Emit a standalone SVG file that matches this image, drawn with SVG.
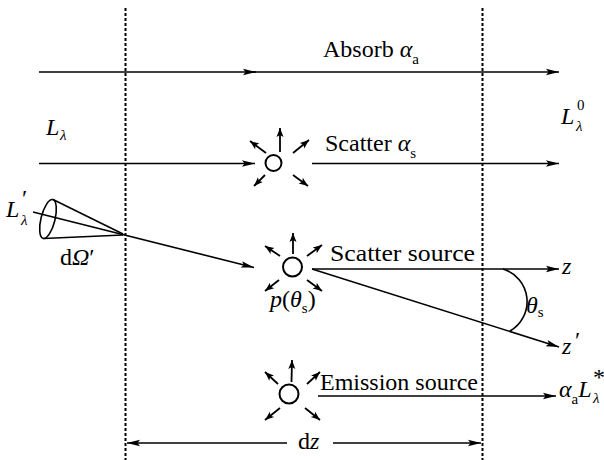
<svg xmlns="http://www.w3.org/2000/svg" width="604" height="460" viewBox="0 0 604 460">
<defs>
<marker id="ah" markerUnits="userSpaceOnUse" markerWidth="14" markerHeight="8" refX="13" refY="4" orient="auto" overflow="visible">
<path d="M0,0.8 L13,4 L0,7.2 L2.5,4 z" fill="#000"/>
</marker>
<marker id="sh" markerUnits="userSpaceOnUse" markerWidth="10" markerHeight="8" refX="9" refY="4" orient="auto" overflow="visible">
<path d="M0,0.5 L9,4 L0,7.5 L2,4 z" fill="#000"/>
</marker>
<marker id="ahs" markerUnits="userSpaceOnUse" markerWidth="14" markerHeight="8" refX="0" refY="4" orient="auto" overflow="visible">
<path d="M0,4 L13,0.8 L10.5,4 L13,7.2 z" fill="#000"/>
</marker>
</defs>
<style>
.t{font-family:"Liberation Serif","Times New Roman",serif;font-size:24px;fill:#000}
.i{font-style:italic}
.sub{font-size:15px}
.ln{stroke:#000;stroke-width:1.6;fill:none}
.dash{stroke:#000;stroke-width:2;stroke-dasharray:3 2;fill:none}
.ray{stroke:#000;stroke-width:1.8;fill:none;marker-end:url(#sh)}
.c{fill:#fff;stroke:#000;stroke-width:2}
</style>
<rect width="604" height="460" fill="#fff"/>

<g id="boundaries">
<line class="dash" x1="125.5" y1="8" x2="125.5" y2="460"/>
<line class="dash" x1="482.5" y1="8" x2="482.5" y2="460"/>
</g>

<g id="connectors">
<line class="ln" x1="39" y1="72" x2="256" y2="72" marker-end="url(#ah)"/>
<line class="ln" x1="250" y1="72" x2="559" y2="72" marker-end="url(#ah)"/>
<line class="ln" x1="39" y1="163.5" x2="255" y2="163.5" marker-end="url(#ah)"/>
<line class="ln" x1="312" y1="163.5" x2="559" y2="163.5" marker-end="url(#ah)"/>
<line class="ln" x1="33" y1="212" x2="254" y2="267.5" marker-end="url(#ah)"/>
<line class="ln" x1="312" y1="269" x2="559" y2="269" marker-end="url(#ah)"/>
<line class="ln" x1="312" y1="269" x2="559" y2="347" marker-end="url(#ah)"/>
<path class="ln" d="M503,269 A34,34 0 0 1 510,331"/>
<line class="ln" x1="318" y1="396" x2="556" y2="396" marker-end="url(#ah)"/>
<line class="ln" x1="127" y1="443" x2="287" y2="443" marker-start="url(#ahs)"/>
<line class="ln" x1="333" y1="443" x2="481" y2="443" marker-end="url(#ah)"/>
</g>

<g id="cone">
<ellipse class="ln" cx="48" cy="219" rx="7" ry="20" transform="rotate(14 48 219)" stroke-width="1.8"/>
<line class="ln" x1="53" y1="199.5" x2="123" y2="234"/>
<line class="ln" x1="43.5" y1="238.5" x2="123" y2="235"/>
</g>

<g id="scatter">
<circle class="c" cx="273.5" cy="163" r="8"/>
<line class="ray" x1="280" y1="152" x2="280" y2="128"/>
<line class="ray" x1="266" y1="153" x2="250" y2="141"/>
<line class="ray" x1="293" y1="153" x2="309" y2="140"/>
<line class="ray" x1="265" y1="175" x2="254" y2="186"/>
<line class="ray" x1="293" y1="175" x2="308" y2="186"/>
</g>

<g id="scatter-source">
<circle class="c" cx="292.5" cy="267" r="9.5"/>
<line class="ray" x1="293" y1="254" x2="293" y2="233"/>
<line class="ray" x1="280" y1="256" x2="265" y2="246"/>
<line class="ray" x1="307" y1="256" x2="322" y2="245"/>
<line class="ray" x1="279" y1="280" x2="265" y2="291"/>
<line class="ray" x1="307" y1="280" x2="322" y2="291"/>
</g>

<g id="emission-source">
<circle class="c" cx="289" cy="394" r="9.5"/>
<line class="ray" x1="291.5" y1="382" x2="292" y2="360"/>
<line class="ray" x1="278" y1="384" x2="265" y2="372"/>
<line class="ray" x1="307" y1="384" x2="320" y2="372"/>
<line class="ray" x1="280" y1="408" x2="265" y2="420"/>
<line class="ray" x1="305" y1="408" x2="320" y2="420"/>
</g>

<g id="labels">
<text class="t" x="323" y="57">Absorb <tspan class="i">α</tspan><tspan class="sub" dy="7">a</tspan></text>
<text class="t" x="325" y="151">Scatter <tspan class="i">α</tspan><tspan class="sub" dy="7">s</tspan></text>
<text class="t" x="330" y="261" textLength="145" lengthAdjust="spacingAndGlyphs">Scatter source</text>
<text class="t" x="320" y="390" textLength="158" lengthAdjust="spacingAndGlyphs">Emission source</text>
<text class="t i" x="46" y="135">L</text><text class="t sub i" x="60" y="140" font-size="11">λ</text>
<text class="t i" x="561" y="124">L</text><text class="t sub" x="577" y="110" font-size="13">0</text><text class="t sub i" x="576" y="131" font-size="11">λ</text>
<text class="t i" x="6" y="217">L</text><text class="t" x="22" y="206" font-size="15">′</text><text class="t sub i" x="21" y="225" font-size="11">λ</text>
<text class="t" x="60" y="265">d<tspan class="i">Ω</tspan>′</text>
<text class="t" x="270" y="307"><tspan class="i">p</tspan>(<tspan class="i">θ</tspan><tspan class="sub" dy="6">s</tspan><tspan dy="-6">)</tspan></text>
<text class="t i" x="562" y="274">z</text>
<text class="t i" x="562" y="354">z</text><text class="t" x="575" y="348" font-size="18">′</text>
<text class="t" x="526" y="313"><tspan class="i">θ</tspan><tspan class="sub" dy="4">s</tspan></text>
<text class="t" x="559" y="397"><tspan class="i">α</tspan><tspan class="sub" dy="7">a</tspan><tspan class="i" dy="-7">L</tspan></text>
<text class="t" x="593" y="385" font-size="13">*</text><text class="t sub i" x="593" y="403" font-size="11">λ</text>
<text class="t" x="298" y="449">d<tspan class="i">z</tspan></text>
</g>
</svg>
